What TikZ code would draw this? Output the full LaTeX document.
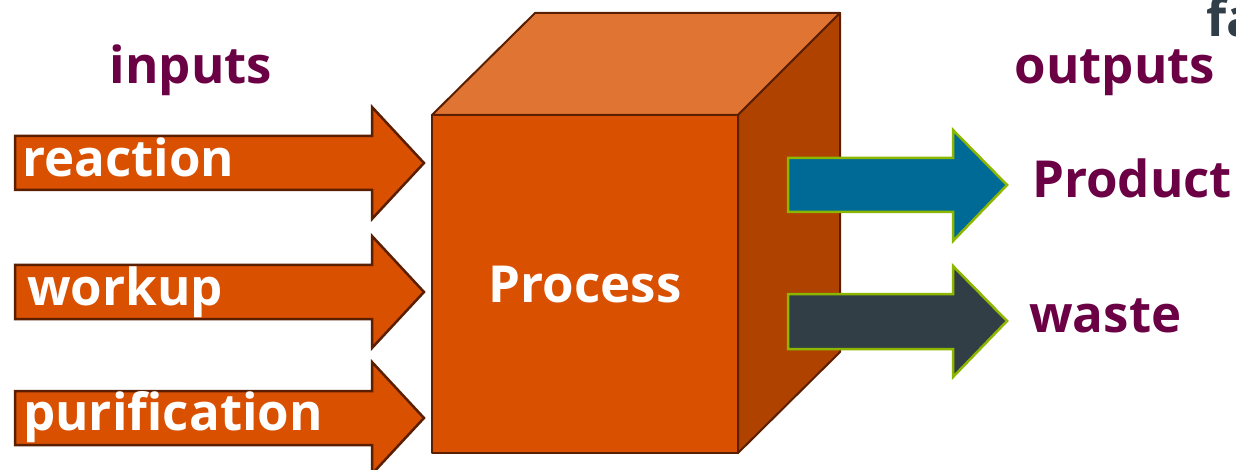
\documentclass[tikz,border=0pt]{standalone}
\usepackage{fontspec}
\setmainfont{Open Sans}
\definecolor{cfront}{HTML}{D95000}
\definecolor{ctop}{HTML}{E07433}
\definecolor{cside}{HTML}{B04200}
\definecolor{cedge}{HTML}{5A1E00}
\definecolor{cblue}{HTML}{006A96}
\definecolor{cslate}{HTML}{323E46}
\definecolor{cgreen}{HTML}{8DB600}
\definecolor{cpurple}{HTML}{6B0045}
\definecolor{cfa}{HTML}{2F3E48}
\begin{document}
\begin{tikzpicture}[x=1pt,y=-1pt,
  face/.style={draw=cedge,line width=2pt,line join=round},
  inarrow/.style={fill=cfront,draw=cedge,line width=2.5pt,line join=miter},
  outarrow/.style={draw=cgreen,line width=2.5pt,line join=miter},
  lbl/.style={font=\bfseries\fontsize{51}{51}\selectfont,inner sep=0pt,anchor=base west},
  head/.style={font=\bfseries\fontsize{51}{51}\selectfont,inner sep=0pt,text=cpurple}]
\useasboundingbox (0,0) rectangle (1236,470);
\clip (0,0) rectangle (1236,470);
% cube
\fill[ctop,face] (432,115) -- (535,13) -- (840,13) -- (738,115) -- cycle;
\fill[cside,face] (738,115) -- (840,13) -- (840,352) -- (738,453) -- cycle;
\fill[cfront,face] (432,115) rectangle (738,453);
\node[font=\bfseries\fontsize{51}{51}\selectfont,inner sep=0pt,text=white,anchor=base] (proc) at (585,302) {Process};
% input arrows
\foreach \c/\n in {163/a1,292/a2,418/a3}{
  \draw[inarrow] (15,\c-27) -- (372,\c-27) -- (372,\c-56) -- (424,\c) -- (372,\c+56) -- (372,\c+27) -- (15,\c+27) -- cycle;
}
\node[lbl,text=white] (reaction) at (22,177) {reaction};
\node[lbl,text=white] (workup) at (27,305) {workup};
\node[lbl,text=white] (purif) at (23,430) {purification};
% output arrows
\draw[outarrow,fill=cblue] (788,158) -- (953,158) -- (953,130) -- (1007,185) -- (953,241) -- (953,212) -- (788,212) -- cycle;
\draw[outarrow,fill=cslate] (788,294) -- (953,294) -- (953,266) -- (1007,321) -- (953,377) -- (953,349) -- (788,349) -- cycle;
% headings
\node[head,anchor=base] (inputs) at (191,84) {inputs};
\node[head,anchor=base] (outputs) at (1115,84) {outputs};
\node[head,anchor=base west] (product) at (1032,198) {Product};
\node[head,anchor=base west] (waste) at (1029,332) {waste};
\node[font=\bfseries\fontsize{52}{52}\selectfont,inner sep=0pt,text=cfa,anchor=base west] (fa) at (1206,37) {fa};
\end{tikzpicture}
\end{document}
